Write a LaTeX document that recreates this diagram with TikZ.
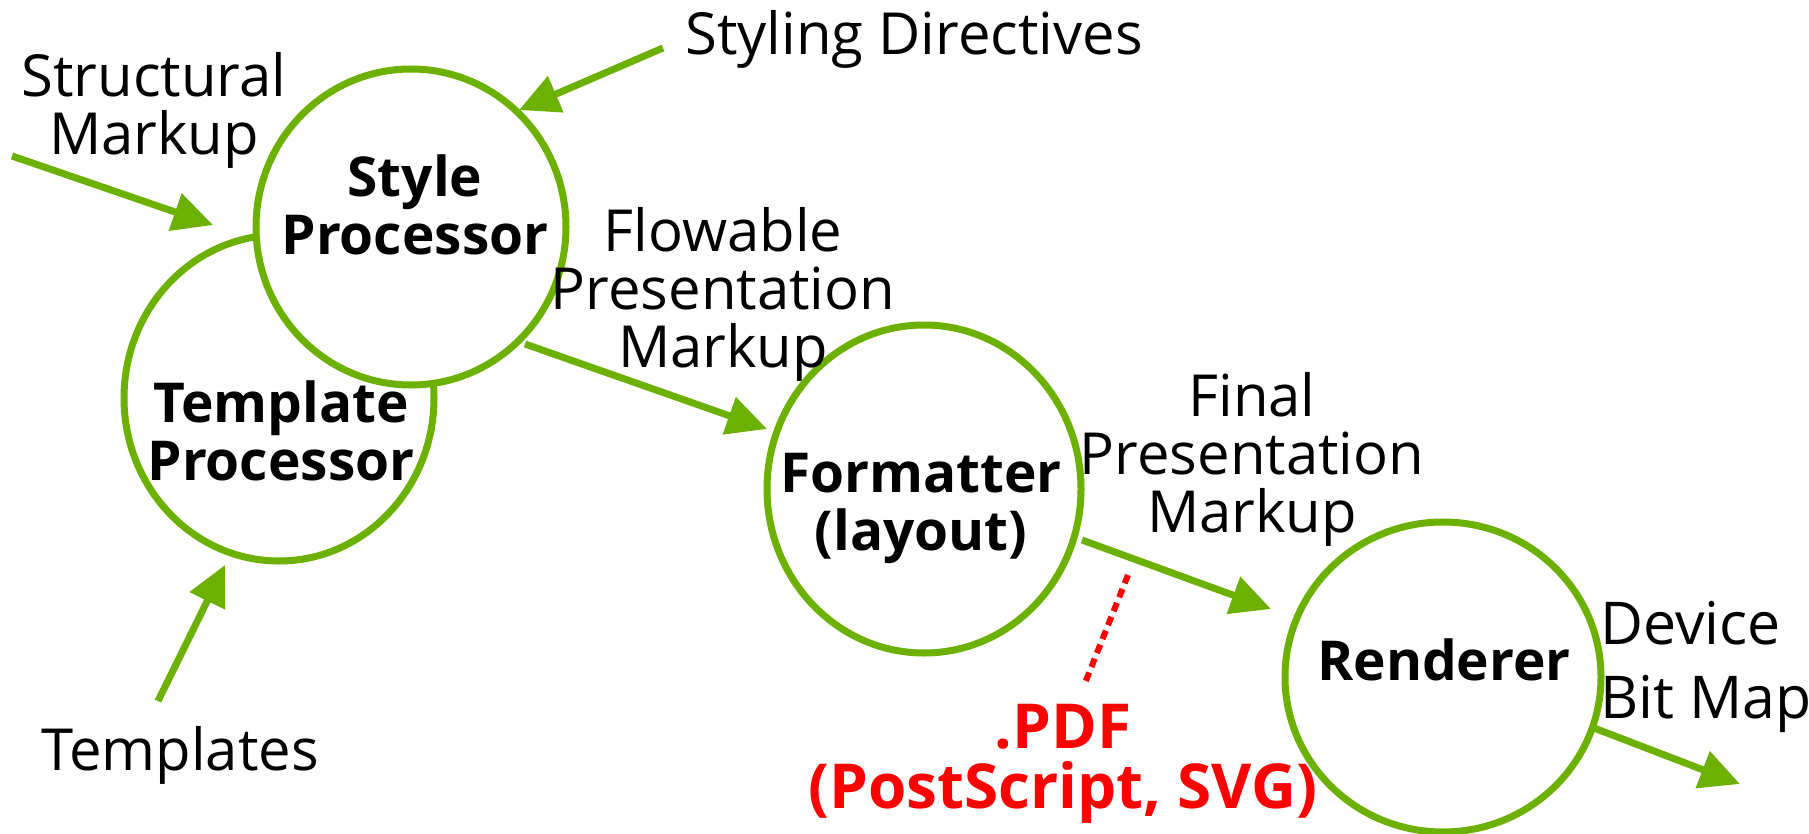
\documentclass[tikz,border=0pt]{standalone}
\usepackage{fontspec}
\setmainfont{Open Sans}
\usetikzlibrary{shapes.geometric,arrows.meta}
\definecolor{grn}{RGB}{108,176,0}
\definecolor{rd}{RGB}{255,0,0}
\begin{document}
\begin{tikzpicture}[x=1pt,y=-1pt,
  proc/.style={draw=grn,line width=7pt,ellipse,fill=white,inner sep=0pt},
  lbl/.style={font=\fontsize{58}{58}\selectfont,align=center,inner sep=0pt},
  blbl/.style={font=\fontsize{55}{58}\selectfont\bfseries,align=center,inner sep=0pt},
  redlbl/.style={font=\fontsize{62}{60}\selectfont\bfseries,align=center,inner sep=0pt,text=rd},
  flow/.style={draw=grn,line width=7pt,-{Triangle[length=40pt,width=38pt]}},
  reddot/.style={draw=rd,line width=6pt,dash pattern=on 9pt off 6pt},
]
\useasboundingbox[fill=white] (0,0) rectangle (1809,834);
% processors
\node[proc,minimum width=310pt,minimum height=326pt] (tmpl) at (279,398) {};
\node[proc,minimum width=310pt,minimum height=316pt] (style) at (411,227) {};
\node[proc,minimum width=314pt,minimum height=328pt] (fmt) at (924,489) {};
\node[proc,minimum width=316pt,minimum height=310pt] (rend) at (1443,677) {};
% processor texts
\node[blbl] (styleT) at (415,205) {Style\\Processor};
\node[blbl] (tmplT) at (281,431) {Template\\Processor};
\node[blbl] (fmtT) at (921,508) {Formatter\\(layout)};
\node[blbl] (rendT) at (1444,660) {Renderer};
% labels
\node[lbl] (structL) at (154,110) {Structural\\Markup};
\node[lbl] (stylingL) at (914,39) {Styling Directives};
\node[lbl] (tmplL) at (180,755) {Templates};
\node[lbl] (flowL) at (723,294) {Flowable\\Presentation\\Markup};
\node[lbl] (finalL) at (1252,459) {Final\\Presentation\\Markup};
\node[lbl,font=\fontsize{59}{74}\selectfont,align=left,anchor=west] (devL) at (1600,667) {Device\\Bit Map};
\node[redlbl] (pdfL) at (1063,764) {.PDF\\(PostScript, SVG)};
% connector end points
\coordinate (a1s) at (12,156);   \coordinate (a1e) at (213,225);
\coordinate (a2s) at (663,48);   \coordinate (a2e) at (519,110);
\coordinate (a3s) at (158,701);  \coordinate (a3e) at (225,565);
\coordinate (a4s) at (525,344);  \coordinate (a4e) at (767,429);
\coordinate (a5s) at (1082,540); \coordinate (a5e) at (1271,609);
\coordinate (a6s) at (1594,728); \coordinate (a6e) at (1740,784);
\coordinate (d1s) at (1128,575); \coordinate (d1e) at (1085,683);
\draw[flow] (a1s) -- (a1e);
\draw[flow] (a2s) -- (a2e);
\draw[flow] (a3s) -- (a3e);
\draw[flow] (a4s) -- (a4e);
\draw[flow] (a5s) -- (a5e);
\draw[flow] (a6s) -- (a6e);
\draw[reddot] (d1s) -- (d1e);
\end{tikzpicture}
\end{document}
